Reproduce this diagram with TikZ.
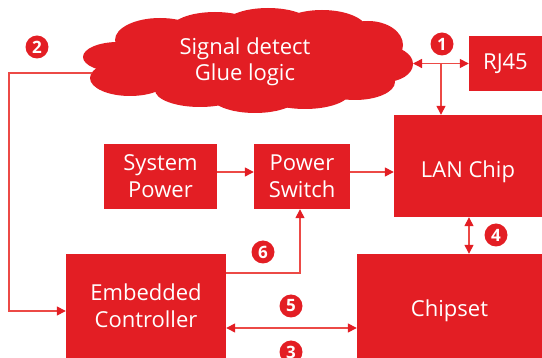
\documentclass[tikz,border=0pt]{standalone}
\usepackage{fontspec}
\setmainfont{Open Sans}
\usetikzlibrary{arrows.meta,calc}
\definecolor{bred}{HTML}{E31E24}
\definecolor{lred}{HTML}{EC4A46}
\begin{document}
\begin{tikzpicture}[x=1pt,y=-1pt,
  box/.style={fill=bred, draw=none, inner sep=0pt, text=white, align=center,
    font=\fontsize{22}{27}\selectfont},
  lowtext/.style={text height=28pt, text depth=5pt},
  conn/.style={draw=lred, line width=1.4pt},
  >={Triangle[length=9pt,width=9pt,color=bred]},
  badge/.style={circle, fill=bred, text=white, inner sep=0pt, minimum size=23pt,
    font=\fontsize{17}{17}\selectfont\bfseries},
  puff/.style={fill=bred}
]
\useasboundingbox (0,0) rectangle (542,358);
\clip (0,0) rectangle (542,358);

% cloud
\fill[puff] (118,57) ellipse [x radius=35, y radius=15];
\fill[puff] (130,78) ellipse [x radius=40, y radius=18];
\fill[puff] (160,40) ellipse [x radius=45, y radius=22];
\fill[puff] (215,30) ellipse [x radius=45, y radius=18];
\fill[puff] (268,26) ellipse [x radius=45, y radius=18];
\fill[puff] (322,30) ellipse [x radius=45, y radius=20];
\fill[puff] (368,45) ellipse [x radius=35, y radius=24];
\fill[puff] (385,64) ellipse [x radius=28, y radius=18];
\fill[puff] (355,82) ellipse [x radius=40, y radius=18];
\fill[puff] (305,92) ellipse [x radius=45, y radius=17];
\fill[puff] (255,95) ellipse [x radius=45, y radius=18];
\fill[puff] (200,90) ellipse [x radius=45, y radius=17];
\fill[puff] (248,60) ellipse [x radius=135, y radius=40];
\node[text=white, align=center, font=\fontsize{22}{26}\selectfont] (cloud) at (245,62) {Signal detect\\Glue logic};

% boxes
\node[box, minimum width=73pt, minimum height=55pt] (rj) at (505.5,63.5) {RJ45};
\node[box, minimum width=113pt, minimum height=65pt] (sp) at (160.5,176.5) {System\\Power};
\node[box, minimum width=96pt, minimum height=65pt] (ps) at (302,176.5) {Power\\Switch};
\node[box, lowtext, minimum width=148pt, minimum height=102pt] (lan) at (468,166) {LAN Chip};
\node[box, minimum width=160pt, minimum height=104pt] (ec) at (146,306) {Embedded\\Controller};
\node[box, text height=26pt, text depth=5pt, minimum width=185pt, minimum height=104pt] (cs) at (449.5,306) {Chipset};

% connector anchors
\coordinate (cloudE) at (413,63.5);
\coordinate (cloudW) at (92,73);
\coordinate (j1) at (441,63.5);
\coordinate (c2) at (9,311);
\coordinate (y172) at (0,172);
\coordinate (e6) at (300,273);
\coordinate (x469) at (469,0);
\coordinate (y328) at (0,328);

% connectors
\draw[conn,<->] (cloudE) -- (rj.west);
\draw[conn,->] (j1) -- (j1 |- lan.north);
\draw[conn,->] (cloudW) -- (cloudW -| c2) -- (c2) -- (c2 -| ec.west);
\draw[conn,->] (sp.east |- y172) -- (ps.west |- y172);
\draw[conn,->] (ps.east |- y172) -- (lan.west |- y172);
\draw[conn,->] (ec.east |- e6) -- (e6) -- (e6 |- ps.south);
\draw[conn,<->] (lan.south -| x469) -- (cs.north -| x469);
\draw[conn,<->] (ec.east |- y328) -- (cs.west |- y328);

% badges
\node[badge] (b1) at (442,44) {1};
\node[badge] (b2) at (37,47) {2};
\node[badge] (b3) at (291,352) {3};
\node[badge] (b4) at (496,235) {4};
\node[badge] (b5) at (291,306) {5};
\node[badge] (b6) at (263,252) {6};
\end{tikzpicture}
\end{document}
